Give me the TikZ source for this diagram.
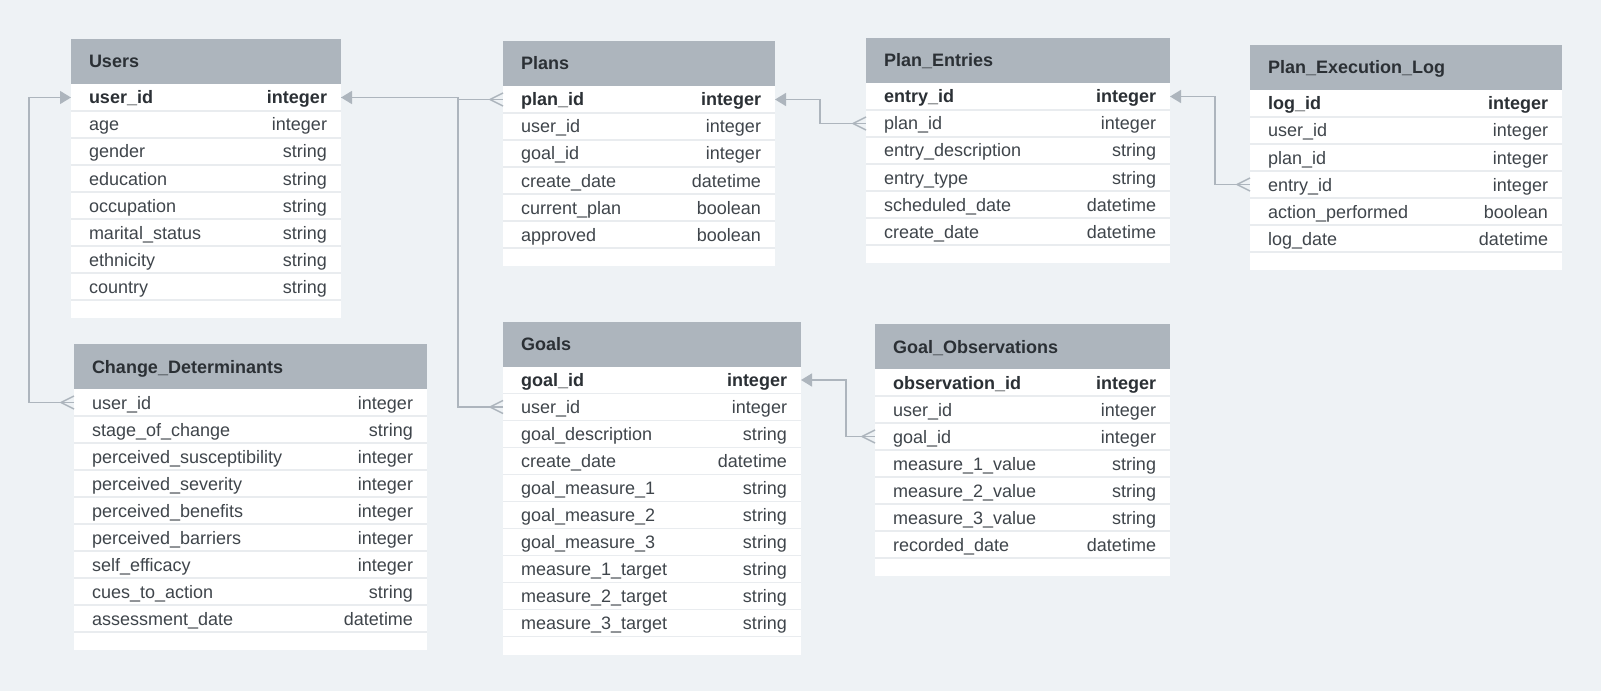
\documentclass[tikz,border=0pt]{standalone}
\usepackage{fontspec}
\setmainfont{Liberation Sans}
\usetikzlibrary{arrows.meta,calc}
\definecolor{bgc}{HTML}{EEF2F5}
\definecolor{hdrc}{HTML}{ADB5BD}
\definecolor{linec}{HTML}{ADB5BD}
\definecolor{sepc}{HTML}{E9ECEF}
\definecolor{txtc}{HTML}{3F454B}
\definecolor{boldc}{HTML}{2B3035}
\newcommand\tfs{\fontsize{18bp}{20bp}\selectfont}
\tikzset{
  hdrbox/.style={fill=hdrc, draw=none, minimum height=45bp, inner sep=0, outer sep=0},
  rowbox/.style={draw=none, minimum height=27bp, inner sep=0, outer sep=0},
  txt/.style={inner sep=0, outer sep=0, text height=13bp, text depth=0bp, font=\tfs, text=txtc},
  sep/.style={draw=sepc, line width=1.6bp},
  conn/.style={draw=linec, line width=1.4bp},
  tip/.style={{Triangle[length=11bp,width=13bp]}-},
}
% #1 name, #2 title, #3 x, #4 y, #5 width, #6 rows, #7 fields, #8 bold row (0 = none)
\newcommand\erdtab[8]{%
  \fill[white] (#3,#4+45) rectangle (#3+#5,#4+45+#6*27+18);
  \node[hdrbox, minimum width=#5bp, anchor=north west] (#1-h) at (#3,#4) {};
  \node[txt, font=\tfs\bfseries, text=boldc, anchor=west] (#1-title) at ([xshift=18bp]#1-h.west) {#2};
  \foreach [count=\i] \n/\t in {#7} {
    \node[rowbox, minimum width=#5bp, anchor=north west] (#1-\i) at (#3,{#4+45+(\i-1)*27}) {};
    \draw[sep] (#1-\i.south west) -- (#1-\i.south east);
    \node[txt, anchor=west] (#1-\i-n) at ([xshift=18bp]#1-\i.west) {\ifnum\i=#8 \bfseries\color{boldc}\fi\n};
    \node[txt, anchor=east] (#1-\i-t) at ([xshift=-14bp]#1-\i.east) {\ifnum\i=#8 \bfseries\color{boldc}\fi\t};
  }
}
\newcommand\crowfoot[1]{%
  \draw[conn] ([xshift=-13bp]#1) -- ([yshift=6.5bp]#1);
  \draw[conn] ([xshift=-13bp]#1) -- ([yshift=-6.5bp]#1);
}
\begin{document}
\begin{tikzpicture}[x=1bp, y=-1bp]
\useasboundingbox (0,0) rectangle (1601,691);
\fill[bgc] (0,0) rectangle (1601,691);

\erdtab{users}{Users}{71}{39}{270}{8}{user\_id/integer, age/integer, gender/string, education/string, occupation/string, marital\_status/string, ethnicity/string, country/string}{1}
\erdtab{plans}{Plans}{503}{41}{272}{6}{plan\_id/integer, user\_id/integer, goal\_id/integer, create\_date/datetime, current\_plan/boolean, approved/boolean}{1}
\erdtab{pe}{Plan\_Entries}{866}{38}{304}{6}{entry\_id/integer, plan\_id/integer, entry\_description/string, entry\_type/string, scheduled\_date/datetime, create\_date/datetime}{1}
\erdtab{pel}{Plan\_Execution\_Log}{1250}{45}{312}{6}{log\_id/integer, user\_id/integer, plan\_id/integer, entry\_id/integer, action\_performed/boolean, log\_date/datetime}{1}
\erdtab{cd}{Change\_Determinants}{74}{344}{353}{9}{user\_id/integer, stage\_of\_change/string, perceived\_susceptibility/integer, perceived\_severity/integer, perceived\_benefits/integer, perceived\_barriers/integer, self\_efficacy/integer, cues\_to\_action/string, assessment\_date/datetime}{0}
\erdtab{goals}{Goals}{503}{321.5}{298}{10}{goal\_id/integer, user\_id/integer, goal\_description/string, create\_date/datetime, goal\_measure\_1/string, goal\_measure\_2/string, goal\_measure\_3/string, measure\_1\_target/string, measure\_2\_target/string, measure\_3\_target/string}{1}
\erdtab{go}{Goal\_Observations}{875}{324}{295}{7}{observation\_id/integer, user\_id/integer, goal\_id/integer, measure\_1\_value/string, measure\_2\_value/string, measure\_3\_value/string, recorded\_date/datetime}{1}

% connectors
\draw[conn, -{Triangle[length=11bp,width=13bp]}] (cd-1.west) -- ++(-45,0) |- (users-1.west);
\draw[conn, tip] (users-1.east) -- ++(117,0) |- (plans-1.west);
\draw[conn] (goals-2.west) -- ++(-45,0) |- (users-1.east);
\draw[conn, tip] (plans-1.east) -- ++(45,0) |- (pe-2.west);
\draw[conn, tip] (pe-1.east) -- ++(45,0) |- (pel-4.west);
\draw[conn, tip] (goals-1.east) -- ++(45,0) |- (go-3.west);

\crowfoot{cd-1.west}
\crowfoot{plans-1.west}
\crowfoot{goals-2.west}
\crowfoot{pe-2.west}
\crowfoot{pel-4.west}
\crowfoot{go-3.west}
\end{tikzpicture}
\end{document}
